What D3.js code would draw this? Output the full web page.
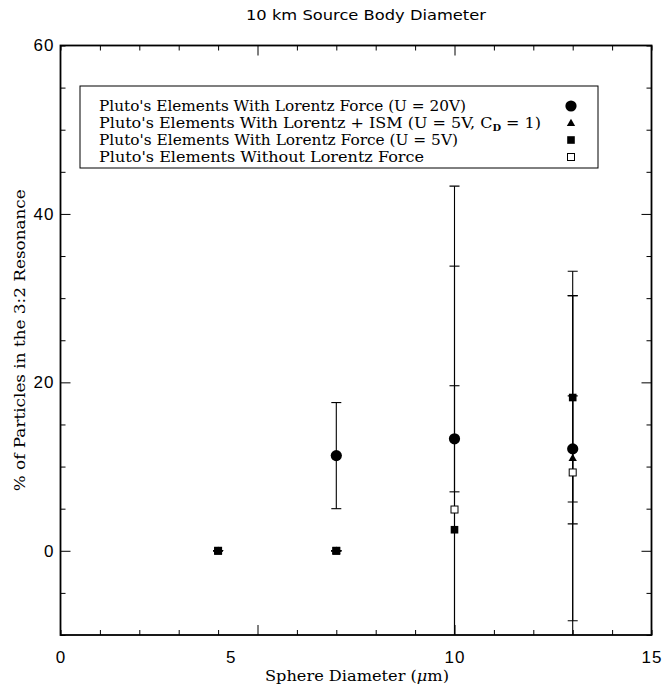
<!DOCTYPE html>
<html>
<head>
<meta charset="utf-8">
<script src="https://cdn.jsdelivr.net/npm/d3@7"></script>
<style>
  html, body { margin: 0; padding: 0; background: #fff; }
  svg { display: block; }
</style>
</head>
<body>
<svg id="chart" width="672" height="688"></svg>
<script>
// ---------------- DATA ----------------
const sphereDiameters = [4, 7, 10, 13];

// Pluto's Elements With Lorentz Force (U = 20V)  -> filled circle
const lorentz20V      = [null, 11.3, 13.3, 12.1];
const lorentz20VErr   = [null, 6.3, 6.3, 6.3];

// Pluto's Elements With Lorentz + ISM (U = 5V, C_D = 1) -> filled triangle
const lorentzISM      = [0, 0, null, 11.0];
const lorentzISMErr   = [0, 0, null, 19.3];

// Pluto's Elements With Lorentz Force (U = 5V) -> filled square
const lorentz5V       = [0, 0, 2.5, 18.2];
const lorentz5VErr    = [0, 0, 31.3, 15.0];

// Pluto's Elements Without Lorentz Force -> open square
const noLorentz       = [0, 0, 4.9, 9.3];
const noLorentzErr    = [0, 0, 38.4, 21.0];

const seriesNames = [
  "Pluto's Elements With Lorentz Force (U = 20V)",
  "Pluto's Elements With Lorentz + ISM (U = 5V, C_D = 1)",
  "Pluto's Elements With Lorentz Force (U = 5V)",
  "Pluto's Elements Without Lorentz Force"
];

const xDomain = [0, 15];
const yDomain = [-10, 60];
const xMinorTicks = d3.range(0, 16, 1);
const xMajorTicks = [5, 10];
const yMinorTicks = d3.range(-10, 61, 5);
const yMajorTicks = [0, 20, 40];
const xTickLabels = ["0", "5", "10", "15"];
const xTickLabelAt = [0, 4.32, 10, 15];   // label anchors as drawn in the original
const yTickLabels = ["0", "20", "40", "60"];
const yTickLabelAt = [0, 20, 40, 60];

const titleText = "10 km Source Body Diameter";
const xTitle = "Sphere Diameter (";
const yTitle = "% of Particles in the 3:2 Resonance";

// ---------------- LAYOUT ----------------
const svg = d3.select("#chart");
const L = 60.5, R = 651.5, T = 45.5, B = 635;
const x = d3.scaleLinear().domain(xDomain).range([L, R]);
const y = d3.scaleLinear().domain(yDomain).range([B, T]);

const sansTick = "'Liberation Sans', Arial, Helvetica, sans-serif";
const serif = "'DejaVu Serif', 'Liberation Serif', serif";

// clip path for error bars
svg.append("defs").append("clipPath").attr("id", "plotclip")
  .append("rect").attr("x", L).attr("y", T).attr("width", R - L).attr("height", B - T);

// ---- ticks (inward, mirrored on all sides) ----
function tickAxis(axisGen, transform) {
  const g = svg.append("g").attr("transform", transform).call(axisGen);
  g.select(".domain").remove();
  g.selectAll("line").attr("stroke", "#000").attr("stroke-width", 1);
  return g;
}
const minorX = xMinorTicks.filter(d => !xMajorTicks.includes(d));
const minorY = yMinorTicks.filter(d => !yMajorTicks.includes(d));
tickAxis(d3.axisBottom(x).tickValues(minorX).tickSize(-5).tickFormat(""), `translate(0,${B})`);
tickAxis(d3.axisBottom(x).tickValues(xMajorTicks).tickSize(-10).tickFormat(""), `translate(0,${B})`);
tickAxis(d3.axisTop(x).tickValues(minorX).tickSize(-5).tickFormat(""), `translate(0,${T})`);
tickAxis(d3.axisTop(x).tickValues(xMajorTicks).tickSize(-10).tickFormat(""), `translate(0,${T})`);
tickAxis(d3.axisLeft(y).tickValues(minorY).tickSize(-5).tickFormat(""), `translate(${L},0)`);
tickAxis(d3.axisLeft(y).tickValues(yMajorTicks).tickSize(-10).tickFormat(""), `translate(${L},0)`);
tickAxis(d3.axisRight(y).tickValues(minorY).tickSize(-5).tickFormat(""), `translate(${R},0)`);
tickAxis(d3.axisRight(y).tickValues(yMajorTicks).tickSize(-10).tickFormat(""), `translate(${R},0)`);

// ---- tick labels ----
const xl = svg.append("g").attr("transform", `translate(0,${B})`)
  .call(d3.axisBottom(x).tickValues(xTickLabelAt).tickSize(0).tickPadding(16)
    .tickFormat((d, i) => xTickLabels[i]));
xl.select(".domain").remove();
xl.selectAll("text").attr("font-family", sansTick).attr("font-size", 17)
  .attr("letter-spacing", 1).attr("fill", "#000");

const yl = svg.append("g").attr("transform", `translate(${L},0)`)
  .call(d3.axisLeft(y).tickValues(yTickLabelAt).tickSize(0).tickPadding(6)
    .tickFormat((d, i) => yTickLabels[i]));
yl.select(".domain").remove();
yl.selectAll("text").attr("font-family", sansTick).attr("font-size", 17)
  .attr("letter-spacing", 1).attr("fill", "#000");

// ---- frame ----
svg.append("rect").attr("x", L).attr("y", T).attr("width", R - L).attr("height", B - T)
  .attr("fill", "none").attr("stroke", "#000").attr("stroke-width", 1.8);

// ---- data: error bars then markers ----
const series = [
  { vals: noLorentz, errs: noLorentzErr, shape: "openSquare" },
  { vals: lorentzISM, errs: lorentzISMErr, shape: "triangle" },
  { vals: lorentz5V, errs: lorentz5VErr, shape: "square" },
  { vals: lorentz20V, errs: lorentz20VErr, shape: "circle" }
];

const errG = svg.append("g").attr("clip-path", "url(#plotclip)");
const capW = 5;
series.forEach(s => {
  const pts = sphereDiameters.map((d, i) => ({ x: d, v: s.vals[i], e: s.errs[i] }))
    .filter(p => p.v !== null);
  pts.forEach(p => {
    const y1 = y(p.v + p.e), y0 = y(p.v - p.e), cx = x(p.x);
    errG.append("line").attr("x1", cx).attr("x2", cx).attr("y1", y1).attr("y2", y0)
      .attr("stroke", "#000").attr("stroke-width", 1.1);
    [y1, y0].forEach(yy => errG.append("line")
      .attr("x1", cx - capW).attr("x2", cx + capW).attr("y1", yy).attr("y2", yy)
      .attr("stroke", "#000").attr("stroke-width", 1.1));
  });
});

function drawMarker(g, shape, cx, cy) {
  if (shape === "circle") {
    g.append("circle").attr("cx", cx).attr("cy", cy).attr("r", 5.6).attr("fill", "#000");
  } else if (shape === "square") {
    g.append("rect").attr("x", cx - 3.8).attr("y", cy - 3.8).attr("width", 7.6).attr("height", 7.6)
      .attr("fill", "#000");
  } else if (shape === "openSquare") {
    g.append("rect").attr("x", cx - 3.5).attr("y", cy - 3.5).attr("width", 7).attr("height", 7)
      .attr("fill", "#fff").attr("stroke", "#000").attr("stroke-width", 1);
  } else if (shape === "triangle") {
    g.append("path").attr("transform", `translate(${cx},${cy + 0.5})`)
      .attr("d", d3.symbol().type(d3.symbolTriangle).size(30)()).attr("fill", "#000");
  }
}

const markG = svg.append("g");
series.forEach(s => {
  sphereDiameters.forEach((d, i) => {
    if (s.vals[i] === null) return;
    drawMarker(markG, s.shape, x(d), y(s.vals[i]));
  });
});

// ---- legend ----
const lg = svg.append("g");
lg.append("rect").attr("x", 80).attr("y", 86).attr("width", 518).attr("height", 82)
  .attr("fill", "#fff").attr("stroke", "#000").attr("stroke-width", 1);
const legendShapes = ["circle", "triangle", "square", "openSquare"];
const rowLengths = [367, 442, 359, 325];
seriesNames.forEach((name, i) => {
  const yy = 111 + i * 17;
  const t = lg.append("text").attr("x", 99).attr("y", yy)
    .attr("font-family", serif).attr("font-size", 14.5).attr("fill", "#000")
    .attr("textLength", rowLengths[i]).attr("lengthAdjust", "spacingAndGlyphs");
  if (name.includes("C_D")) {
    const parts = name.split("C_D");
    t.append("tspan").text(parts[0] + "C");
    t.append("tspan").attr("dy", 3).attr("font-size", 9).attr("font-weight", "bold").text("D");
    t.append("tspan").attr("dy", -3).text(parts[1]);
  } else {
    t.text(name);
  }
  drawMarker(lg, legendShapes[i], 571, yy - 5);
});

// ---- titles ----
svg.append("text").attr("x", 366).attr("y", 20).attr("text-anchor", "middle")
  .attr("font-family", "'DejaVu Sans', sans-serif").attr("font-size", 14)
  .attr("textLength", 240).attr("lengthAdjust", "spacingAndGlyphs")
  .attr("fill", "#000").text(titleText);

const xt = svg.append("text").attr("x", 357).attr("y", 681).attr("text-anchor", "middle")
  .attr("font-family", serif).attr("font-size", 15.5)
  .attr("textLength", 184).attr("lengthAdjust", "spacingAndGlyphs").attr("fill", "#000");
xt.append("tspan").text(xTitle);
xt.append("tspan").attr("font-style", "italic").text("\u03bc");
xt.append("tspan").text("m)");

svg.append("text").attr("transform", `translate(25,${(T + B) / 2}) rotate(-90)`)
  .attr("text-anchor", "middle")
  .attr("font-family", serif).attr("font-size", 15.5)
  .attr("textLength", 302).attr("lengthAdjust", "spacingAndGlyphs")
  .attr("fill", "#000").text(yTitle);
</script>
</body>
</html>
